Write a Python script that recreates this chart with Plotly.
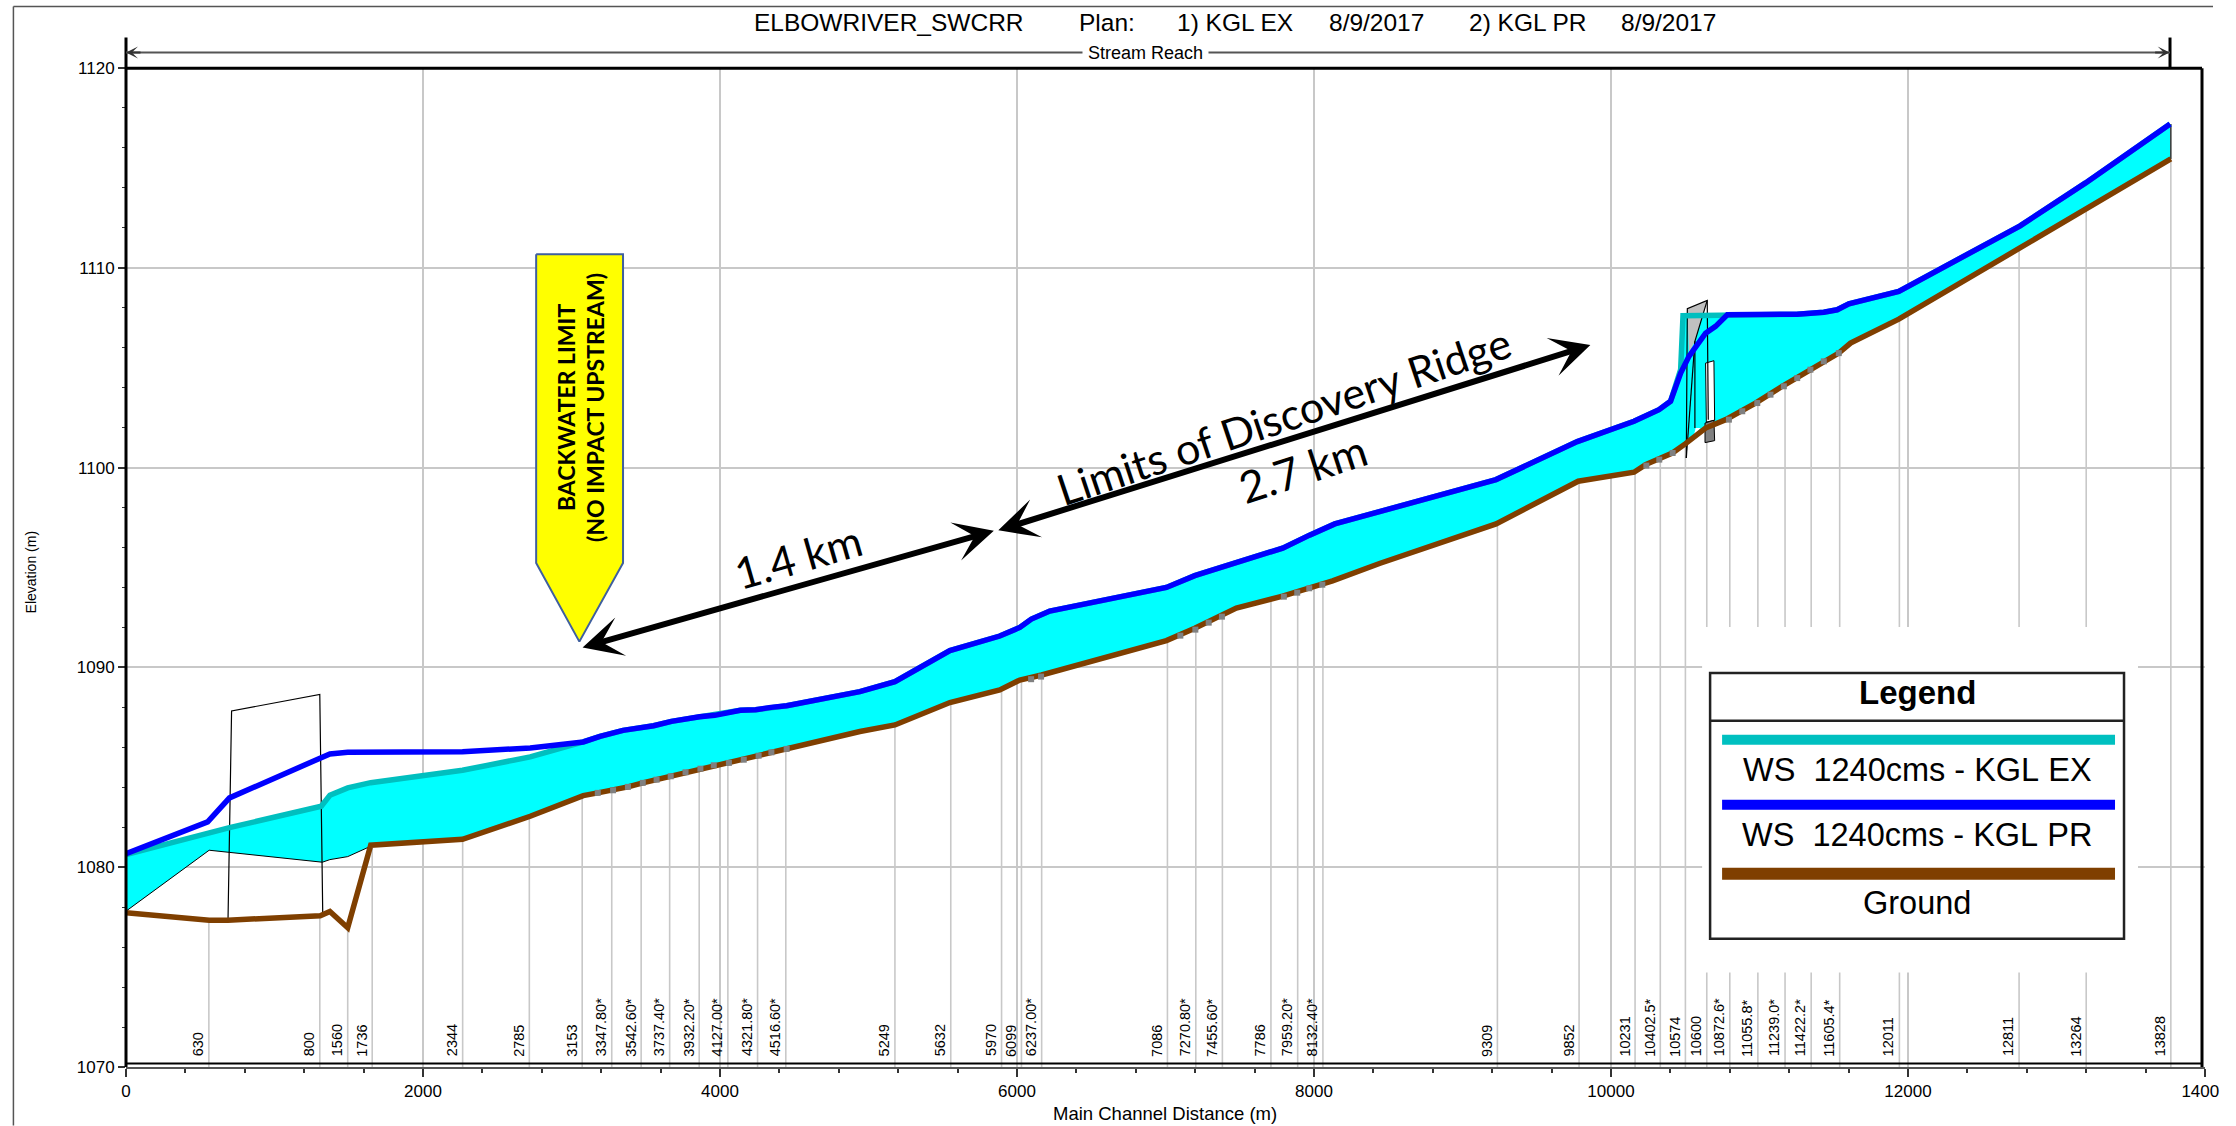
import plotly.graph_objects as go

# ---------- data (main channel distance m, elevation m) ----------
station_labels = ["630","800","1560","1736","2344","2785","3153","3347.80*","3542.60*","3737.40*","3932.20*",
                  "4127.00*","4321.80*","4516.60*","5249","5632","5970","6099","6237.00*","7086","7270.80*",
                  "7455.60*","7786","7959.20*","8132.40*","9309","9852","10231","10402.5*","10574","10600",
                  "10872.6*","11055.8*","11239.0*","11422.2*","11605.4*","12011","12811","13264","13828"]
station_x = [558,1305,1493,1658,2267,2716,3072,3271,3469,3661,3860,4053,4253,4443,5178,5554,5896,6030,6166,
             7013,7204,7383,7710,7890,8060,9235,9785,10162,10332,10501,10645,10800,10989,11172,11348,11540,
             11942,12748,13200,13770]
station_top = [1077.35,1077.57,1076.97,1081.1,1081.4,1082.55,1083.55,1083.85,1084.2,1084.55,1084.92,1085.2,
               1085.55,1085.9,1087.12,1088.24,1088.9,1089.37,1089.62,1091.36,1092.0,1092.55,1093.4,1093.72,
               1094.12,1097.2,1099.32,1099.78,1100.5,1101.2,1102.0,1102.5,1103.3,1104.15,1104.9,1105.75,
               1107.43,1110.9,1112.9,1115.42]

ground_x = [0,560,687,1308,1373,1493,1648,2266,2722,3079,3177,3280,3380,3480,3573,3668,3768,3868,3958,4060,4160,
            4260,4346,4449,4942,5178,5548,5884,6019,6166,7006,7197,7380,7477,7789,7948,8125,8441,9226,9779,10155,
            10233,10413,10502,10637,10772,10973,11153,11344,11534,11613,11938,12748,13196,13770]
ground_y = [1077.72,1077.35,1077.35,1077.57,1077.78,1076.97,1081.1,1081.4,1082.55,1083.58,1083.72,1083.85,1084.02,
            1084.22,1084.38,1084.55,1084.75,1084.93,1085.1,1085.22,1085.38,1085.58,1085.75,1085.92,1086.79,1087.12,
            1088.24,1088.87,1089.37,1089.62,1091.34,1091.96,1092.58,1092.97,1093.57,1093.96,1094.33,1095.2,1097.18,
            1099.32,1099.77,1100.15,1100.73,1101.2,1101.98,1102.4,1103.23,1104.07,1104.9,1105.73,1106.23,1107.43,
            1110.97,1112.9,1115.45]

# KGL PR water surface, split where KGL EX shares it
pr_low_x = [0,550,697,1315,1373,1493,2266,2722]
pr_low_y = [1080.67,1082.27,1083.47,1085.47,1085.67,1085.75,1085.78,1085.97]
shared_mid_x = [3079,3192,3347,3553,3673,3862,3965,4137,4240,4343,4449,4942,5178,5548,5884,6019,6097,6221,7006,
                7197,7386,7789,7970,8140,9226,9773,10155,10323,10401]
shared_mid_y = [1086.27,1086.55,1086.85,1087.08,1087.3,1087.53,1087.6,1087.85,1087.88,1088.0,1088.08,1088.79,
                1089.29,1090.84,1091.57,1092.0,1092.42,1092.82,1094.0,1094.59,1095.04,1095.97,1096.62,1097.18,
                1099.4,1101.3,1102.32,1102.9,1103.32]
pr_dam_x = [10469,10525,10637,10704]
pr_dam_y = [1104.73,1105.57,1106.73,1107.07]
shared_up_x = [10783,11254,11433,11523,11602,11938,12755,13196,13765]
shared_up_y = [1107.65,1107.68,1107.78,1107.9,1108.2,1108.82,1112.1,1114.25,1117.2]

# KGL EX water surface, where it differs
ex_low_x = [0,697,1315,1373,1493,1648,2266,2722]
ex_low_y = [1080.63,1081.98,1083.05,1083.6,1083.97,1084.23,1084.85,1085.52]
ex_dam_x = [10469,10485]
ex_dam_y = [1104.9,1107.6]

# lower edge of the flow area on the left, and structures
flow_low_x = [0,560,1322,1373,1493,1648]
flow_low_y = [1077.8,1080.85,1080.25,1080.38,1080.53,1081.05]
bridge_x = [687,711,1305,1325]
bridge_y = [1077.4,1087.82,1088.65,1077.6]
gate_gray_x = [10514,10648,10565,10525]
gate_gray_y = [1107.95,1108.37,1106.32,1105.73]
gate_line_x = [10507,10514,10648,10655,None,10648,10565,10565,None,10565,10507]
gate_line_y = [1100.48,1107.95,1108.37,1102.4,None,1108.37,1106.32,1101.98,None,1106.32,1100.48]
pier_white_x = [10637,10693,10698,10642,10637]
pier_white_y = [1105.23,1105.35,1102.37,1102.28,1105.23]
pier_gray_x = [10633,10693,10698,10633,10633]
pier_gray_y = [1102.23,1102.37,1101.35,1101.25,1102.23]
notch_x = [10570,10603,10559]
notch_y = [1101.98,1101.98,1101.65]

# interpolated-section markers on the ground line
marker_x = [3177,3280,3380,3480,3573,3668,3768,3868,3958,4060,4160,4260,4346,4449,6095,6162,7100,7201,7291,7380,
            7797,7887,7968,8056,10238,10325,10415,10794,10884,10985,11074,11164,11254,11343,11433,11534]
marker_y = [1083.72,1083.85,1084.02,1084.22,1084.38,1084.55,1084.75,1084.93,1085.1,1085.22,1085.38,1085.58,1085.75,
            1085.92,1089.41,1089.54,1091.59,1091.89,1092.24,1092.54,1093.54,1093.74,1093.96,1094.14,1100.1,1100.4,
            1100.73,1102.4,1102.82,1103.23,1103.65,1104.07,1104.48,1104.9,1105.32,1105.73]

callout_x = [2762,3347,3347,3053,2762,2762]
callout_y = [1110.68,1110.68,1095.23,1091.29,1095.23,1110.68]

legend_names = ["WS  1240cms - KGL EX","WS  1240cms - KGL PR","Ground"]
legend_colors = ["#00C0C0","#0000FF","#7F3F00"]

title_parts = ["ELBOWRIVER_SWCRR","Plan:","1) KGL EX","8/9/2017","2) KGL PR","8/9/2017"]

x_tick_vals = [0,2000,4000,6000,8000,10000,12000,14000]
x_tick_text = ["0","2000","4000","6000","8000","10000","12000","1400\u00a0\u00a0"]

TEAL, BLUE, BROWN, CYAN, GRID = "#00BFBF","#0000FF","#7F3F00","#00FFFF","#C8C8C8"
SANS, CAL = "Liberation Sans", "Lato"
NB = "\u00a0"

# ---------- figure geometry ----------
W, H = 2236, 1126
L, R, T, B = 125.6, 2205.0, 67.5, 1067.5
def px(v): return (v - L) / (R - L)
def py(v): return (B - v) / (B - T)

fig = go.Figure()
def xs_pairs(xs, tops):
    ox, oy = [], []
    for a, b in zip(xs, tops):
        ox += [a, a, None]; oy += [1070, b, None]
    return ox, oy

sx, sy = xs_pairs(station_x, station_top)
fig.add_trace(go.Scatter(x=sx, y=sy, mode="lines", line=dict(color=GRID, width=1.6), name="Sections"))

# flow area
top_x = ex_low_x + shared_mid_x + ex_dam_x + shared_up_x
top_y = ex_low_y + shared_mid_y + ex_dam_y + shared_up_y
bot_x = flow_low_x + [g for g in ground_x if g > 1648]
bot_y = flow_low_y + [v for g, v in zip(ground_x, ground_y) if g > 1648]
fig.add_trace(go.Scatter(x=top_x + bot_x[::-1], y=top_y + bot_y[::-1], mode="lines", fill="toself",
                         fillcolor=CYAN, line=dict(width=0), name="Flow area"))
fig.add_trace(go.Scatter(x=flow_low_x, y=flow_low_y, mode="lines", line=dict(color="black", width=1), name="Flow edge"))
fig.add_trace(go.Scatter(x=[13770,13770], y=[1115.45,1117.2], mode="lines", line=dict(color="#333333", width=1.5), name="End"))

# structures
fig.add_trace(go.Scatter(x=bridge_x, y=bridge_y, mode="lines", line=dict(color="black", width=1.2), name="Bridge"))
fig.add_trace(go.Scatter(x=gate_gray_x, y=gate_gray_y, mode="lines", fill="toself", fillcolor="#C0C0C0",
                         line=dict(width=0), name="Gate"))
fig.add_trace(go.Scatter(x=notch_x, y=notch_y, mode="lines", fill="toself", fillcolor="white", line=dict(width=0), name="Notch"))
fig.add_trace(go.Scatter(x=pier_white_x, y=pier_white_y, mode="lines", fill="toself", fillcolor="white",
                         line=dict(color="black", width=1), name="Pier"))
fig.add_trace(go.Scatter(x=pier_gray_x, y=pier_gray_y, mode="lines", fill="toself", fillcolor="#808080",
                         line=dict(color="black", width=1), name="Pier base"))
fig.add_trace(go.Scatter(x=gate_line_x, y=gate_line_y, mode="lines", line=dict(color="black", width=1.2), name="Gate outline"))

# profiles
fig.add_trace(go.Scatter(x=top_x, y=top_y, mode="lines", line=dict(color=TEAL, width=5.5), name=legend_names[0]))
fig.add_trace(go.Scatter(x=pr_low_x + shared_mid_x + pr_dam_x + shared_up_x,
                         y=pr_low_y + shared_mid_y + pr_dam_y + shared_up_y,
                         mode="lines", line=dict(color=BLUE, width=5.5), name=legend_names[1]))
fig.add_trace(go.Scatter(x=ground_x, y=ground_y, mode="lines", line=dict(color=BROWN, width=5.5), name=legend_names[2]))
fig.add_trace(go.Scatter(x=marker_x, y=marker_y, mode="markers",
                         marker=dict(symbol="square", size=6, color="#808080"), name="Interpolated"))
# callout
fig.add_trace(go.Scatter(x=callout_x, y=callout_y, mode="lines", fill="toself", fillcolor="#FFFF00",
                         line=dict(color="#3F5F9F", width=2), name="Backwater limit"))

shapes, ann = [], []
def rect(x0, y0, x1, y1, fill=None, line=None, lw=0):
    shapes.append(dict(type="rect", xref="paper", yref="paper", x0=px(x0), x1=px(x1), y0=py(y0), y1=py(y1),
                       fillcolor=fill or "rgba(0,0,0,0)", line=dict(color=line or "rgba(0,0,0,0)", width=lw), layer="above"))
def seg(x0, y0, x1, y1, color, lw):
    shapes.append(dict(type="line", xref="paper", yref="paper", x0=px(x0), x1=px(x1), y0=py(y0), y1=py(y1),
                       line=dict(color=color, width=lw), layer="above"))
def text(x, y, s, size, font=SANS, color="black", angle=0, xa="center", ya="middle", bg=None, **kw):
    ann.append(dict(xref="paper", yref="paper", x=px(x), y=py(y), text=s, showarrow=False, textangle=angle,
                    xanchor=xa, yanchor=ya, font=dict(family=font, size=size, color=color),
                    bgcolor=bg or "rgba(0,0,0,0)", borderpad=0, **kw))

# outer page rule and frame
seg(13, 6, 2213, 6, "#555555", 1.5)
seg(13, 6, 13, 1126, "#555555", 1.5)
seg(125.6, 37, 125.6, 1067.5, "black", 3)
seg(125.6, 67.7, 2202, 67.7, "black", 3)
seg(2202, 67.7, 2202, 1067.5, "black", 3)
seg(125.6, 1064, 2202, 1064, "black", 2)
seg(2170, 37, 2170, 67.7, "black", 3)
seg(125.6, 52, 2170, 52, "#555555", 2)

# legend mask and box
rect(1702, 627, 2138, 973, fill="white")
rect(1710, 673, 2124, 939, fill="white", line="#222222", lw=2.5)
seg(1710, 721, 2124, 721, "#222222", 2.5)
text(1917, 693, "<b>Legend</b>", 33)
for yl, yt, name, col, lw in zip([740, 805, 874], [770, 835, 903], legend_names, legend_colors, [10, 10, 12]):
    seg(1722, yl, 2115, yl, col, lw)
    text(1917, yt, name.replace(" ", NB), 32.5)

# stream reach
text(1145, 52, NB + "Stream Reach" + NB, 18, bg="white")
ann.append(dict(xref="x", yref="paper", x=0, y=py(52), ax=16, ay=0, text="", showarrow=True, arrowhead=3,
                arrowwidth=2, arrowsize=1, arrowcolor="#333333"))
ann.append(dict(xref="x", yref="paper", x=13762, y=py(52), ax=-16, ay=0, text="", showarrow=True, arrowhead=3,
                arrowwidth=2, arrowsize=1, arrowcolor="#333333"))

# titles
for s, xl in zip(title_parts, [753, 1078, 1176, 1328, 1468, 1620]):
    text(xl, 22, s, 24.5, xa="left")
text(31, 572, "Elevation (m)", 14, angle=-90)
text(1165, 1114, "Main Channel Distance (m)", 18.5)

# station labels
for lab, xv in zip(station_labels, station_x):
    ann.append(dict(xref="x", yref="paper", x=xv, y=py(1059), text=lab, showarrow=False, textangle=-90,
                    xanchor="right", yanchor="bottom", xshift=-1, font=dict(family=SANS, size=14.5, color="black")))

# discovery ridge arrows
arrow_ends = [(3064.6, 1090.98, 5844, 1096.84), (5864, 1096.84, 9861, 1106.13)]
for x0, y0, x1, y1 in arrow_ends:
    ann.append(dict(xref="x", yref="y", axref="x", ayref="y", x=x1, y=y1, ax=x0, ay=y0, text="", showarrow=True,
                    arrowside="end+start", arrowhead=3, startarrowhead=3, arrowsize=1.1, startarrowsize=1.1,
                    arrowwidth=6, arrowcolor="black"))
for xv, yv, s, sz, ang in [(4525, 1095.6, "1.4 km", 43.5, -16), (7795, 1102.6, "Limits of Discovery Ridge", 43, -18.5),
                           (7923, 1100.0, "2.7 km", 44, -18)]:
    ann.append(dict(xref="x", yref="y", x=xv, y=yv, text=s, showarrow=False, textangle=ang,
                    font=dict(family=CAL, size=sz, color="black")))
ann.append(dict(xref="x", yref="y", x=3059, y=1103.0, text="<b>BACKWATER LIMIT<br>(NO IMPACT UPSTREAM)</b>",
                showarrow=False, textangle=-90, font=dict(family=CAL, size=23, color="black")))

fig.update_layout(
    width=W, height=H, margin=dict(l=L, r=W - R, t=T, b=H - B, pad=0, autoexpand=False),
    paper_bgcolor="white", plot_bgcolor="white", showlegend=False, shapes=shapes, annotations=ann,
    xaxis=dict(range=[0, 14000], tickmode="array", tickvals=x_tick_vals, ticktext=x_tick_text,
               showgrid=True, gridcolor=GRID, gridwidth=2, zeroline=False,
               ticks="outside", ticklen=8, tickcolor="#333333", tickwidth=1.5, showline=True, linecolor="#555555",
               linewidth=2, tickfont=dict(family=SANS, size=17, color="black"),
               minor=dict(dtick=400, tick0=0, ticks="outside", ticklen=4, tickcolor="#333333", tickwidth=1.5, showgrid=False)),
    yaxis=dict(range=[1070, 1120], dtick=10, tick0=1070, showgrid=True, gridcolor=GRID, gridwidth=2, zeroline=False,
               ticks="outside", ticklen=7, tickcolor="#333333", tickwidth=1.5, showline=False,
               tickfont=dict(family=SANS, size=17, color="black"),
               minor=dict(dtick=2, tick0=1070, ticks="outside", ticklen=3, tickcolor="#333333", tickwidth=1, showgrid=False)),
)
fig.write_html("out.html", config=dict(displayModeBar=False),
               post_script="document.body.style.margin='0';document.body.style.overflow='hidden';")
